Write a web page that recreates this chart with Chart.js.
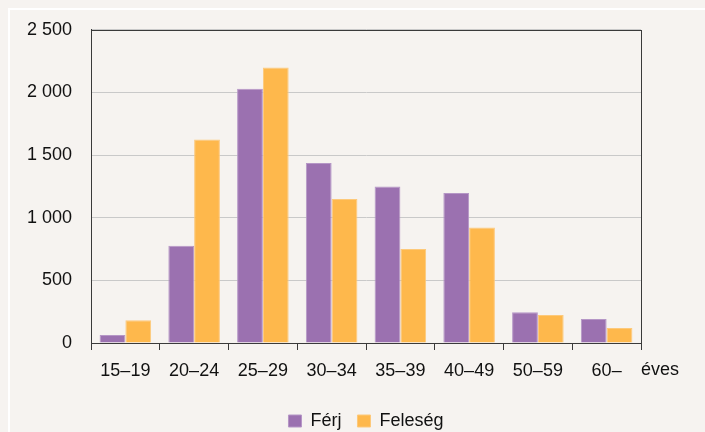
<!DOCTYPE html>
<html>
<head>
<meta charset="utf-8">
<script src="https://cdn.jsdelivr.net/npm/chart.js@4"></script>
<style>
    html, body { margin: 0; padding: 0; background: #f6f3f0; }
    #wrap { position: relative; width: 705px; height: 432px; overflow: hidden; }
    #frame { position: absolute; left: 8px; top: 8px; width: 720px; height: 450px; border: 2px solid #ffffff; box-sizing: border-box; }
    #chart { position: absolute; left: 0; top: 0; }
</style>
</head>
<body>
<div id="wrap">
    <div id="frame"></div>
    <canvas id="chart" width="705" height="432"></canvas>
</div>
<script>
// Age groups and number of husbands / wives
var ageGroups = ['15–19', '20–24', '25–29', '30–34', '35–39', '40–49', '50–59', '60–'];
var ferj = [64, 776, 2030, 1437, 1250, 1197, 245, 192];
var feleseg = [182, 1624, 2200, 1149, 750, 922, 224, 120];
var yTicks = [0, 500, 1000, 1500, 2000, 2500];
var unitLabel = 'éves';

var FONT = "'Liberation Sans', Arial, sans-serif";
var FSIZE = 18;

// frame around the plot area, "éves" unit, legend centred under the plot
var framePlugin = {
    id: 'framePlugin',
    afterLayout: function(chart) {
        var a = chart.chartArea;
        var lg = chart.legend;
        if (lg) {
            var shift = (a.left + a.right) / 2 - (lg.left + lg.right) / 2;
            lg.left += shift;
            lg.right += shift;
        }
    },
    afterDraw: function(chart) {
        var a = chart.chartArea;
        var c = chart.ctx;
        c.save();
        c.strokeStyle = '#3a3a3a';
        c.lineWidth = 1;
        c.strokeRect(Math.round(a.left) + 0.5, Math.round(a.top) + 0.5,
            Math.round(a.right - a.left), Math.round(a.bottom - a.top));
        c.fillStyle = '#111';
        c.font = FSIZE + 'px ' + FONT;
        c.textAlign = 'left';
        c.textBaseline = 'middle';
        c.fillText(unitLabel, a.right, a.bottom + 27);
        c.restore();
    }
};

new Chart(document.getElementById('chart').getContext('2d'), {
    type: 'bar',
    data: {
        labels: ageGroups,
        datasets: [{
            label: 'Férj',
            data: ferj,
            backgroundColor: '#9b71b0',
            borderColor: '#b596c6',
            borderWidth: 1
        }, {
            label: 'Feleség',
            data: feleseg,
            backgroundColor: '#feb84c',
            borderColor: '#fdc97a',
            borderWidth: 1
        }]
    },
    options: {
        responsive: false,
        animation: false,
        layout: { padding: { left: 0, right: 64, top: 21, bottom: -8 } },
        datasets: { bar: { categoryPercentage: 0.75, barPercentage: 1 } },
        plugins: {
            legend: {
                position: 'bottom',
                labels: {
                    boxWidth: 13,
                    boxHeight: 12,
                    padding: 16,
                    color: '#111',
                    font: { family: FONT, size: FSIZE }
                }
            },
            tooltip: { enabled: false }
        },
        scales: {
            x: {
                grid: { drawOnChartArea: false, color: '#3a3a3a', tickLength: 7, offset: true },
                border: { color: '#3a3a3a' },
                ticks: { color: '#111', font: { family: FONT, size: FSIZE }, padding: 10, maxRotation: 0 },
                afterFit: function(s) { s.height = 53; }
            },
            y: {
                min: 0,
                max: 2500,
                afterBuildTicks: function(s) { s.ticks = yTicks.map(function(v) { return { value: v }; }); },
                grid: { color: '#c9c9c9', drawTicks: false },
                border: { color: '#3a3a3a' },
                ticks: {
                    color: '#111',
                    font: { family: FONT, size: FSIZE },
                    padding: 19,
                    callback: function(v) { return v >= 1000 ? Math.floor(v / 1000) + ' ' + String(v % 1000).padStart(3, '0') : String(v); }
                },
                afterFit: function(s) { s.width = 91; }
            }
        }
    },
    plugins: [framePlugin]
});
</script>
</body>
</html>
